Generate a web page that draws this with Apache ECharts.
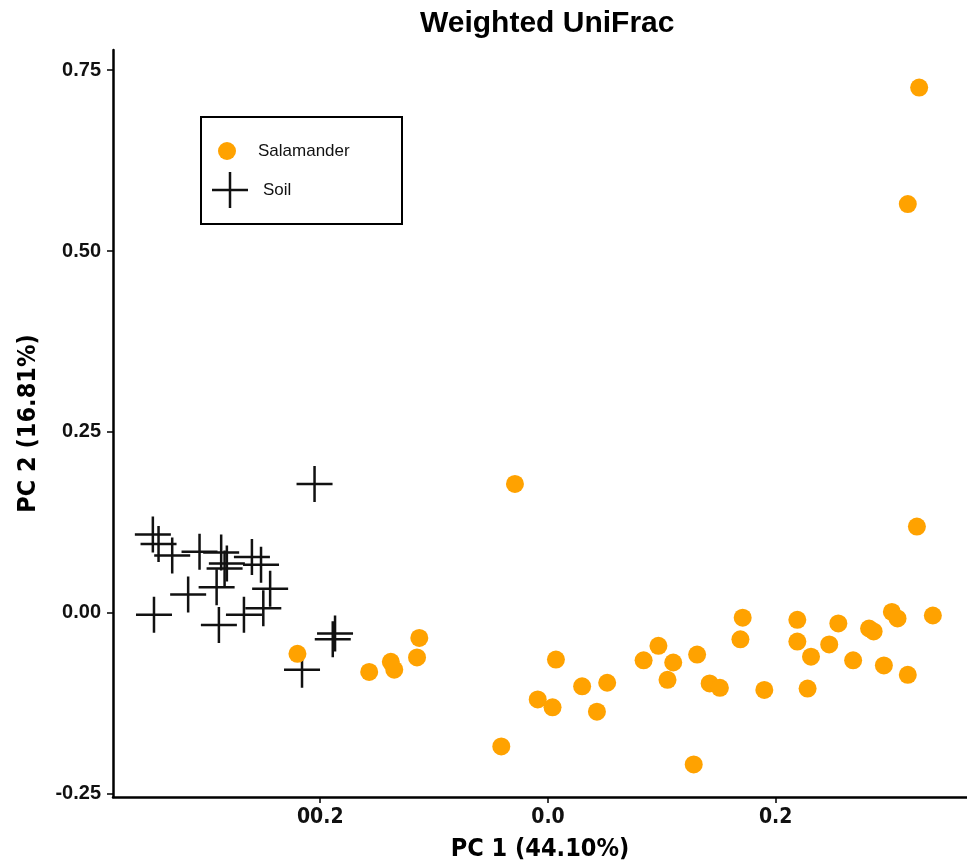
<!DOCTYPE html>
<html>
<head>
<meta charset="utf-8">
<script src="https://cdn.jsdelivr.net/npm/echarts@6/dist/echarts.min.js"></script>
<style>
  html, body { margin: 0; padding: 0; background: #fff; }
  #chart { width: 967px; height: 867px; }
</style>
</head>
<body>
<div id="chart"></div>
<script>
// PC1 / PC2 coordinates
const salamanderPC1 = [0.326, 0.316, -0.029, 0.324, 0.171, 0.219, 0.255, 0.302, 0.307, 0.338,
  0.282, 0.286, 0.169, 0.219, 0.247, 0.231, 0.097, 0.131, 0.084, 0.110,
  0.007, 0.268, 0.295, 0.316, 0.105, 0.052, 0.030, 0.142, 0.151, 0.190,
  0.228, -0.009, 0.004, 0.043, -0.041, 0.128, -0.220, -0.113, -0.115, -0.157,
  -0.138, -0.135];
const salamanderPC2 = [0.726, 0.565, 0.178, 0.119, -0.007, -0.010, -0.015, 0.001, -0.008, -0.004,
  -0.022, -0.026, -0.037, -0.040, -0.044, -0.061, -0.046, -0.058, -0.066, -0.069,
  -0.065, -0.066, -0.073, -0.086, -0.093, -0.097, -0.102, -0.098, -0.104, -0.107,
  -0.105, -0.120, -0.131, -0.137, -0.185, -0.210, -0.057, -0.035, -0.062, -0.082,
  -0.068, -0.079];

const soilPC1 = [-0.347, -0.342, -0.330, -0.306, -0.287, -0.282, -0.284, -0.260, -0.252, -0.291,
  -0.316, -0.244, -0.250, -0.267, -0.346, -0.289, -0.205, -0.187, -0.189, -0.216];
const soilPC2 = [0.108, 0.095, 0.079, 0.084, 0.083, 0.068, 0.061, 0.077, 0.066, 0.035,
  0.025, 0.033, 0.006, -0.003, -0.003, -0.017, 0.178, -0.029, -0.037, -0.079];

const xTicks = [-0.2, 0.0, 0.2];
const xTickLabels = ['00.2', '0.0', '0.2'];
const yTicks = [-0.25, 0.0, 0.25, 0.5, 0.75];
const yTickLabels = ['-0.25', '0.00', '0.25', '0.50', '0.75'];

const zip = (a, b) => a.map((v, i) => [v, b[i]]);

const crossPath = 'path://M0,16.75h36v2.5h-36zM16.75,0h2.5v36h-2.5z';
const narrow = "'DejaVu Sans Condensed', 'Liberation Sans', Arial, sans-serif";
const sans = "'Liberation Sans', Arial, sans-serif";

const chart = echarts.init(document.getElementById('chart'));
chart.setOption({
  animation: false,
  title: {
    text: 'Weighted UniFrac',
    left: 420,
    top: 9,
    padding: 0,
    textStyle: { fontFamily: sans, fontWeight: 'bold', fontSize: 30, color: '#000' }
  },
  grid: { left: 113, right: 0, top: 50, bottom: 70, containLabel: false },
  xAxis: {
    type: 'value',
    min: -0.382,
    max: 0.368,
    name: 'PC 1 (44.10%)',
    nameLocation: 'middle',
    nameGap: 40,
    nameTextStyle: { fontFamily: narrow, fontWeight: 'bold', fontSize: 25, color: '#000' },
    splitLine: { show: false },
    axisLine: { show: true, onZero: false, lineStyle: { color: '#000', width: 2.5 } },
    axisTick: { show: true, length: 6, customValues: xTicks, lineStyle: { color: '#000', width: 1.5 } },
    axisLabel: {
      customValues: xTicks,
      margin: 10,
      fontFamily: narrow, fontWeight: 'bold', fontSize: 21, color: '#111',
      formatter: v => xTickLabels[xTicks.findIndex(t => Math.abs(t - v) < 1e-6)]
    }
  },
  yAxis: {
    type: 'value',
    min: -0.255,
    max: 0.778,
    name: 'PC 2 (16.81%)',
    nameLocation: 'middle',
    nameGap: 72,
    nameTextStyle: { fontFamily: narrow, fontWeight: 'bold', fontSize: 25, color: '#000' },
    splitLine: { show: false },
    axisLine: { show: true, onZero: false, lineStyle: { color: '#000', width: 2.5 } },
    axisTick: { show: true, length: 6, customValues: yTicks, lineStyle: { color: '#000', width: 1.5 } },
    axisLabel: {
      customValues: yTicks,
      margin: 12,
      fontFamily: sans, fontWeight: 'bold', fontSize: 20, color: '#111',
      formatter: v => yTickLabels[yTicks.findIndex(t => Math.abs(t - v) < 1e-6)]
    }
  },
  legend: [
    {
      data: ['Salamander'],
      left: 218, top: 142, padding: 0,
      itemWidth: 18, itemHeight: 18,
      selectedMode: false,
      textStyle: { fontFamily: sans, fontSize: 17, color: '#111', padding: [0, 0, 0, 17] }
    },
    {
      data: ['Soil'],
      left: 212, top: 172, padding: 0,
      itemWidth: 36, itemHeight: 36,
      selectedMode: false,
      textStyle: { fontFamily: sans, fontSize: 17, color: '#111', padding: [0, 0, 0, 10] }
    }
  ],
  graphic: [{
    type: 'rect',
    shape: { x: 201, y: 117, width: 201, height: 107 },
    style: { fill: 'none', stroke: '#000', lineWidth: 2 },
    z: 10
  }],
  series: [
    {
      name: 'Soil',
      type: 'scatter',
      symbol: crossPath,
      symbolSize: 36,
      itemStyle: { color: '#111', opacity: 1 },
      data: zip(soilPC1, soilPC2)
    },
    {
      name: 'Salamander',
      type: 'scatter',
      symbol: 'circle',
      symbolSize: 18,
      itemStyle: { color: '#ffa200', opacity: 1 },
      data: zip(salamanderPC1, salamanderPC2)
    }
  ]
});
</script>
</body>
</html>
